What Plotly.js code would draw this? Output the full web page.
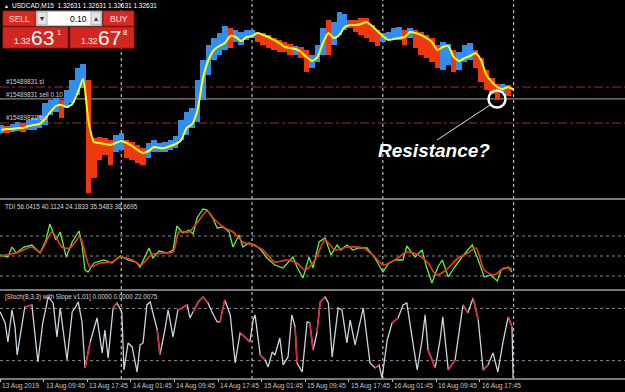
<!DOCTYPE html>
<html><head><meta charset="utf-8">
<script src="https://cdn.plot.ly/plotly-3.0.1.min.js"></script>
<style>html,body{margin:0;padding:0;background:#000;overflow:hidden}#chart{width:625px;height:392px}</style>
</head><body><div id="chart"></div>
<script>
// ---- DATA (x = hours since 13 Aug 2019 00:00, M15 chart USDCAD) ----
const barHours = [2,3,4,5,6,7,8,9,10,11,12,13,14,15,16,17,18,19,20,21,22,23,24,25,26,27,28,29,30,31,32,33,34,35,36,37,38,39,40,41,42,43,44,45,46,47,48,49,50,51,52,53,54,55,56,57,58,59,60,61,62,63,64,65,66,67,68,69,70,71,72,73,74,75,76,77,78,79,80,81,82,83,84,85,86,87,88,89,90,91,92,93,94,95];
const priceHigh = [1.3237,1.3236,1.3238,1.3240,1.3239,1.3242,1.3244,1.3247,1.3259,1.3262,
1.3264,1.3262,1.3272,1.3282,1.3294,1.3298,1.3282,1.3224,1.3225,1.3224,
1.3222,1.3227,1.3229,1.3222,1.3220,1.3217,1.3214,1.3219,1.3222,1.3219,
1.3220,1.3222,1.3226,1.3242,1.3250,1.3254,1.3282,1.3302,1.3317,1.3324,
1.3329,1.3336,1.3334,1.3332,1.3330,1.3332,1.3332,1.3330,1.3329,1.3327,
1.3324,1.3322,1.3320,1.3318,1.3316,1.3315,1.3312,1.3307,1.3317,1.3334,
1.3342,1.3340,1.3350,1.3348,1.3342,1.3342,1.3344,1.3344,1.3337,1.3332,
1.3329,1.3330,1.3334,1.3335,1.3332,1.3334,1.3332,1.3330,1.3327,1.3324,
1.3317,1.3320,1.3318,1.3312,1.3310,1.3317,1.3319,1.3312,1.3304,1.3292,
1.3284,1.3278,1.3278,1.3277];
const priceLow = [1.3229,1.3229,1.3230,1.3231,1.3230,1.3232,1.3232,1.3234,1.3237,1.3247,
1.3250,1.3244,1.3254,1.3259,1.3267,1.3274,1.3169,1.3184,1.3202,1.3207,
1.3197,1.3210,1.3212,1.3204,1.3202,1.3199,1.3197,1.3204,1.3210,1.3210,
1.3210,1.3212,1.3214,1.3222,1.3227,1.3234,1.3240,1.3262,1.3287,1.3302,
1.3307,1.3312,1.3314,1.3320,1.3317,1.3322,1.3324,1.3320,1.3317,1.3314,
1.3312,1.3310,1.3310,1.3307,1.3307,1.3304,1.3290,1.3294,1.3300,1.3307,
1.3307,1.3317,1.3327,1.3332,1.3334,1.3330,1.3327,1.3324,1.3320,1.3316,
1.3320,1.3322,1.3324,1.3322,1.3317,1.3324,1.3314,1.3307,1.3304,1.3300,
1.3294,1.3292,1.3297,1.3290,1.3292,1.3300,1.3302,1.3294,1.3280,1.3272,
1.3268,1.3262,1.3270,1.3266];
const barTrend = ['B','R','B','B','R','B','B','B','B','B',
'B','R','B','B','B','B','R','R','R','R',
'R','B','B','R','R','R','R','B','B','B',
'B','B','B','B','B','B','B','B','B','B',
'B','B','R','B','B','B','B','R','R','R',
'R','R','R','R','B','R','R','B','B','B',
'R','B','B','B','R','R','R','R','R','R',
'B','B','B','B','R','B','R','R','R','R',
'R','B','B','R','B','B','B','R','R','R',
'R','R','B','R'];
const maHours = [2,3,4,5,6,7,8,9,10,11,12,13,14,15,16,17,18,19,20,21,22,23,24,25,26,27,28,29,30,31,32,33,34,35,36,37,38,39,40,41,42,43,44,45,46,47,48,49,50,51,52,53,54,55,56,57,58,59,60,61,62,63,64,65,66,67,68,69,70,71,72,73,74,75,76,77,78,79,80,81,82,83,84,85,86,87,88,89,90,91,92,93,94,95,96];
const maValues = [1.3232,1.3233,1.3233,1.3234,1.3234,1.3236,1.3237,1.3238,1.3243,1.3250,
1.3256,1.3257,1.3255,1.3258,1.3269,1.3283,1.3240,1.3220,1.3219,1.3218,
1.3217,1.3219,1.3221,1.3219,1.3216,1.3212,1.3209,1.3211,1.3215,1.3214,
1.3214,1.3216,1.3218,1.3222,1.3234,1.3238,1.3252,1.3284,1.3302,1.3312,
1.3316,1.3319,1.3326,1.3325,1.3321,1.3325,1.3326,1.3329,1.3327,1.3325,
1.3322,1.3319,1.3315,1.3314,1.3313,1.3310,1.3305,1.3301,1.3305,1.3319,
1.3329,1.3324,1.3327,1.3335,1.3337,1.3337,1.3338,1.3340,1.3336,1.3331,
1.3326,1.3322,1.3323,1.3324,1.3325,1.3330,1.3329,1.3327,1.3324,1.3320,
1.3312,1.3315,1.3316,1.3305,1.3301,1.3304,1.3306,1.3309,1.3302,1.3287,
1.3280,1.3275,1.3273,1.3275,1.3272];

const orderSL = 1.3275, orderEntry = 1.32631, orderTP = 1.3239;

const tdiPriceX = [1.75,3.2,3.95,4.7,6.15,7.6,9.1,10.2,10.9,12.0,12.8,13.9,15.0,16.25,16.8,17.35,17.9,19.0,20.8,22.3,23.8,25.25,26.7,27.45,29.1,29.8,30.9,32.4,33.5,34.2,35.3,36.4,37.2,37.9,39.0,39.75,40.8,41.6,42.7,43.8,44.5,45.6,46.3,47.4,48.55,49.65,50.75,52.2,53.7,55.5,56.25,57.35,58.45,59.2,60.3,61.4,62.5,63.6,64.3,65.4,66.5,67.6,69.1,70.55,72.0,73.1,74.2,75.7,76.4,77.9,79.2,79.9,81.0,82.1,82.9,84.0,85.05,86.5,87.6,88.4,89.5,90.6,91.7,93.0,93.7,95.0,95.7];
const tdiPriceY = [50.9,49.1,58.1,52.7,58.1,59.9,52.7,64.4,78.8,64.4,71.6,49.1,62.6,72.5,59.9,37.4,35.6,43.7,46.4,43.7,50.0,46.4,44.6,40.1,57.2,48.2,54.5,52.7,55.4,77.0,70.7,73.4,69.8,84.2,92.3,91.4,84.2,75.2,76.1,71.6,58.1,68.9,58.1,61.7,59.9,55.4,48.2,41.9,39.2,49.1,40.1,30.2,49.1,39.2,62.6,66.2,50.9,59.9,55.4,59.9,55.4,57.2,57.2,48.2,35.6,43.7,46.4,46.4,59.0,49.1,55.4,41.9,25.7,40.1,46.4,31.1,39.2,49.1,55.4,59.9,46.4,31.1,32.9,27.5,37.4,40.1,35.5];
const tdiSignalX = [1.75,4.7,7.6,9.1,11.3,13.1,14.6,16.4,18.25,20.1,22.3,23.8,26.0,27.6,29.45,31.7,33.5,34.6,36.4,37.9,39.75,41.2,43.0,44.5,46.3,48.2,50.0,52.2,54.4,56.25,57.7,59.55,61.4,63.2,65.4,68.4,70.55,72.0,74.2,76.4,78.5,80.3,81.8,83.6,85.8,87.6,89.1,90.6,92.4,94.2,95.7];
const tdiSignalY = [50,52.7,58.1,53.6,71.6,58.1,57.2,67.1,40.1,43.7,44.6,49.1,46.4,41.9,50.9,52.7,53.6,71.6,71.6,79.7,90.5,82.4,75.2,71.6,62.6,59.9,55.4,44.6,46.4,43.7,37.4,46.4,64.4,55.4,58.1,57.2,49.1,41.9,46.4,53.6,50.9,43.7,32.9,37.4,48.2,52.7,57.2,37.4,32.9,39.2,38.7];
const tdiLevels = [68, 50, 32];

const stochX = [1.75,2.7,3.2,3.95,4.5,4.9,6.3,7.6,8.7,9.6,10.6,11.5,12.2,12.8,14.05,15.0,15.5,16.1,16.8,17.35,18.3,19.55,20.5,21.0,21.6,22.5,23.2,24.1,24.5,25.25,26.0,26.9,27.45,28.0,28.7,29.3,30.6,31.1,32.0,32.6,33.5,34.4,35.15,36.1,36.6,37.2,38.1,39.0,39.9,40.65,41.6,42.1,43.0,44.0,44.9,45.8,46.7,47.6,48.2,48.55,49.5,50.4,50.95,51.7,52.2,53.1,53.7,54.6,55.3,55.9,56.25,57.2,58.1,58.6,59.2,59.9,60.5,61.4,62.0,62.7,63.8,64.5,65.4,66.0,66.9,68.4,69.65,70.6,71.3,71.85,72.8,73.7,74.8,75.7,76.4,77.35,78.3,79.2,79.75,80.3,81.6,82.5,83.0,84.0,85.25,86.7,87.6,88.55,89.5,90.4,91.3,92.2,93.1,94.05,95.0,95.7,95.9];
const stochY = [76.2,63.3,41.4,78.2,58.7,26.5,81.7,84.0,18.4,63.3,93.2,86.3,47.2,80.5,20.7,75.9,80.5,87.4,64.4,11.5,41.4,69.0,28.8,55.2,23.0,80.5,86.3,75.9,9.2,40.3,35.7,6.9,38.0,40.3,84.0,87.4,55.2,26.5,55.2,78.2,47.2,78.2,80.5,84.0,69.0,75.9,87.4,93.2,86.3,75.9,64.4,64.4,89.7,72.5,17.3,51.8,47.2,41.4,66.7,72.5,26.5,20.7,12.7,29.9,26.5,46.0,15.0,24.2,72.5,58.7,17.3,6.9,64.4,63.3,32.2,51.8,87.4,93.2,86.3,24.2,80.5,78.2,40.3,66.7,38.0,80.5,17.3,11.5,15.0,0,43.7,63.3,69.0,84.0,86.3,47.2,9.2,43.7,72.5,32.2,11.5,43.7,70.2,9.2,20.7,84.0,74.8,92.0,66.7,9.2,15.0,28.8,6.9,41.4,70.2,58.7,0];
const stochRedStarts = [6,19,25,36,41,42,45,46,47,51,55,56,60,69,73,75,76,87,91,99,103,105,107,109,114];
const stochLevels = [80, 20];

const tickHours = [1.75,9.75,17.75,25.75,33.75,41.75,49.75,57.75,65.75,73.75,81.75,89.75];
const tickLabels = ['13 Aug 2019','13 Aug 09:45','13 Aug 17:45','14 Aug 01:45','14 Aug 09:45','14 Aug 17:45','15 Aug 01:45','15 Aug 09:45','15 Aug 17:45','16 Aug 01:45','16 Aug 09:45','16 Aug 17:45'];
const daySeparators = [24, 48, 72, 96];

// ---- DRAWING ----
const W = 625, H = 392;
const px = x => x / W, py = y => 1 - y / H;
const FONT = 'Liberation Sans, Arial, sans-serif';
const BLUE = '#2f8ff0', RED = '#f0380f';

const redX = [], redY = [];
stochRedStarts.forEach(i => { redX.push(stochX[i], stochX[i+1], null); redY.push(stochY[i], stochY[i+1], null); });

const traces = [
  {type:'bar', x:barHours, base:priceLow, y:priceHigh.map((h,i)=>h-priceLow[i]), width:1,
   marker:{color:barTrend.map(c=>c==='B'?BLUE:RED), line:{width:0}}, xaxis:'x', yaxis:'y', hoverinfo:'skip'},
  {type:'scatter', mode:'lines', x:maHours, y:maValues, line:{color:'#ffff00', width:2, shape:'spline', smoothing:0.6}, xaxis:'x', yaxis:'y', hoverinfo:'skip'},
  {type:'scatter', mode:'lines', x:tdiPriceX, y:tdiPriceY, line:{color:'#62f03c', width:1.3}, xaxis:'x', yaxis:'y2', hoverinfo:'skip'},
  {type:'scatter', mode:'lines', x:tdiSignalX, y:tdiSignalY, line:{color:'#f03c14', width:1.6, shape:'spline', smoothing:0.7}, xaxis:'x', yaxis:'y2', hoverinfo:'skip'},
  {type:'scatter', mode:'lines', x:stochX, y:stochY, line:{color:'#c8d5de', width:1.3}, xaxis:'x', yaxis:'y3', hoverinfo:'skip'},
  {type:'scatter', mode:'lines', x:redX, y:redY, line:{color:'#e8203a', width:1.5}, xaxis:'x', yaxis:'y3', hoverinfo:'skip', connectgaps:false}
];

const shapes = [];
shapes.push({type:'line', xref:'paper', yref:'y', x0:0, x1:1, y0:orderSL, y1:orderSL, line:{color:'#8e3424', width:1, dash:'dashdot'}, layer:'below'});
shapes.push({type:'line', xref:'paper', yref:'y', x0:0, x1:1, y0:orderEntry, y1:orderEntry, line:{color:'#a8a8a8', width:1}, layer:'below'});
shapes.push({type:'line', xref:'paper', yref:'y', x0:0, x1:1, y0:orderTP, y1:orderTP, line:{color:'#8e3424', width:1, dash:'dashdot'}, layer:'below'});
tdiLevels.forEach(v => shapes.push({type:'line', xref:'paper', yref:'y2', x0:0, x1:1, y0:v, y1:v, line:{color:'#8c8c8c', width:1, dash:'3px,3px'}, layer:'below'}));
stochLevels.forEach(v => shapes.push({type:'line', xref:'paper', yref:'y3', x0:0, x1:1, y0:v, y1:v, line:{color:'#8c8c8c', width:1, dash:'3px,3px'}, layer:'below'}));
daySeparators.forEach(t => shapes.push({type:'line', xref:'x', yref:'paper', x0:t, x1:t, y0:py(379), y1:1, line:{color:'#e0e0e0', width:1, dash:'dot'}, layer:'below'}));
[199, 290, 379].forEach(y => shapes.push({type:'line', xref:'paper', yref:'paper', x0:0, x1:1, y0:py(y), y1:py(y), line:{color:'#a0a0a0', width:1.5}}));
const rect = (x0,y0,x1,y1,fill,lc) => ({type:'rect', xref:'paper', yref:'paper', x0:px(x0), x1:px(x1), y0:py(y1), y1:py(y0), fillcolor:fill, line:{color:lc, width:1}, layer:'above'});
shapes.push(rect(3,11,35,26,'#d92a22','#a81812'));
shapes.push(rect(36,11,102,26,'#ffffff','#8a8a8a'));
shapes.push(rect(37,12,47,25,'#e4e4e4','#b0b0b0'));
shapes.push(rect(91,12,101,25,'#e4e4e4','#b0b0b0'));
shapes.push(rect(103,11,134,26,'#d92a22','#a81812'));
shapes.push(rect(3,27,68,48,'#d42620','#a81812'));
shapes.push(rect(70,27,134,48,'#d42620','#a81812'));
shapes.push({type:'circle', xref:'paper', yref:'paper', x0:px(488.5), x1:px(505.5), y0:py(107.5), y1:py(90.5), line:{color:'#ffffff', width:2.5}, layer:'above'});
shapes.push({type:'line', xref:'paper', yref:'paper', x0:px(437), y0:py(140), x1:px(490), y1:py(105), line:{color:'#e0e0e0', width:1}, layer:'above'});

const ann = (x,y,text,size,color,xa) => ({xref:'paper', yref:'paper', x:px(x), y:py(y), text:text, showarrow:false, xanchor:xa||'left', yanchor:'middle', font:{family:FONT, size:size, color:color}, borderpad:0});
const annotations = [
  ann(3,5.5,'▲',5,'#ffffff'),
  ann(11,5.5,'USDCAD,M15  1.32631 1.32631 1.32631 1.32631',6.5,'#ffffff'),
  ann(19,18.5,'SELL',8.5,'#ffe6e6','center'),
  ann(118.5,18.5,'BUY',8.5,'#ffe6e6','center'),
  ann(88,18.5,'0.10',8.5,'#000000','right'),
  ann(42,18.5,'▾',8,'#333333','center'),
  ann(96,18.5,'▴',8,'#333333','center'),
  ann(13,41,'1.32',8.5,'#ffffff'),
  ann(30,37.5,'63',21,'#ffffff'),
  ann(56,32.5,'1',7.5,'#ffffff'),
  ann(80,41,'1.32',8.5,'#ffffff'),
  ann(97,37.5,'67',21,'#ffffff'),
  ann(122,32.5,'8',7.5,'#ffffff'),
  ann(5,82,'#15489831 sl',6.3,'#d0d0d0'),
  ann(5,94,'#15489831 sell 0.10',6.3,'#d0d0d0'),
  ann(5,118,'#15489831 tp',6.3,'#d0d0d0'),
  ann(4,206,'TDI 56.0415 40.1124 24.1833 35.5483 38.6695',6.3,'#d8d8d8'),
  ann(4,297,'[Stoch(8,3,3) with Slope v1.01] 0.0000 0.0000 22.0075',6.3,'#d8d8d8'),
  ann(434,150,'<b><i>Resistance?</i></b>',19,'#ffffff','center')
];
tickHours.forEach((t,i) => annotations.push({xref:'x', yref:'paper', x:t, y:py(385.5), text:tickLabels[i], showarrow:false, xanchor:'left', yanchor:'middle', xshift:1, font:{family:FONT, size:6.6, color:'#c8c8c8'}, borderpad:0}));

const layout = {
  width:W, height:H, margin:{l:0,r:0,t:0,b:0}, paper_bgcolor:'#000000', plot_bgcolor:'#000000',
  showlegend:false, bargap:0, hovermode:false,
  xaxis:{range:[1.75,116.43], anchor:'y3', showgrid:false, zeroline:false, showline:false, showticklabels:false,
         ticks:'outside', ticklen:3, tickwidth:1, tickcolor:'#c0c0c0', tickmode:'array', tickvals:tickHours, fixedrange:true},
  yaxis:{domain:[py(198),1], range:[1.3164,1.3362], visible:false, fixedrange:true},
  yaxis2:{domain:[py(289),py(200)], range:[20.3,100.4], visible:false, fixedrange:true},
  yaxis3:{domain:[py(378),py(291)], range:[0,100], visible:false, fixedrange:true},
  shapes:shapes, annotations:annotations
};
Plotly.newPlot('chart', traces, layout, {displayModeBar:false, staticPlot:true});
</script>
</body></html>
